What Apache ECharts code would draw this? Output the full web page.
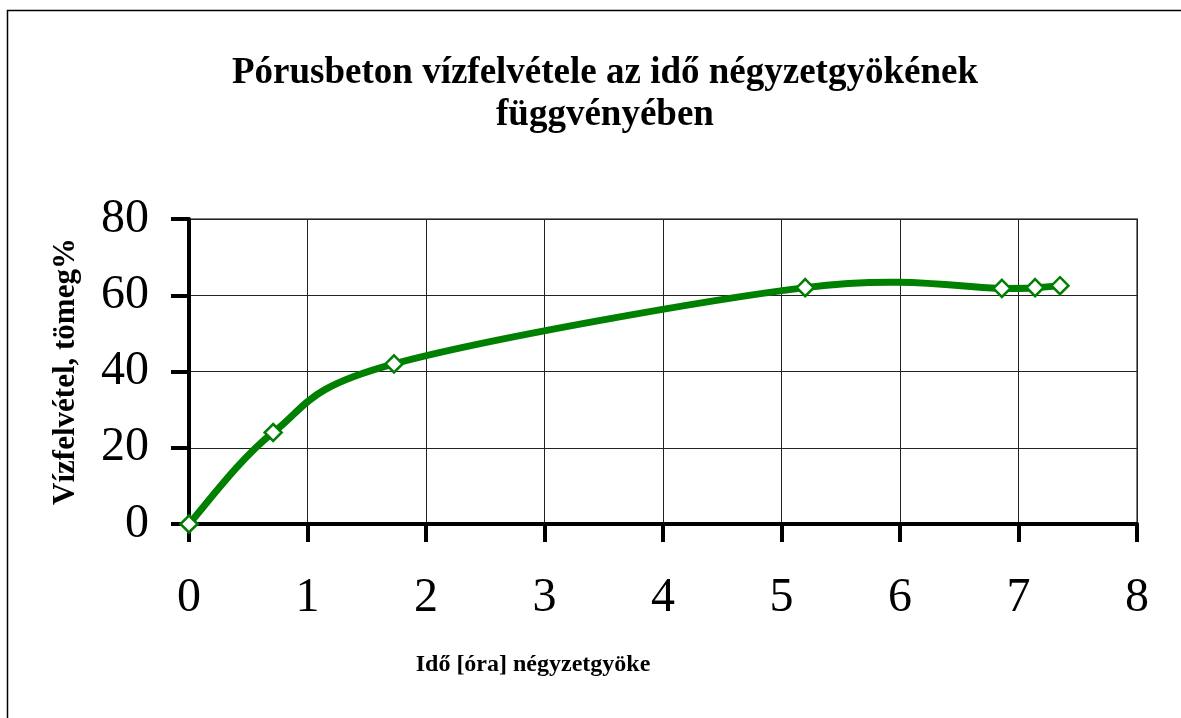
<!DOCTYPE html>
<html>
<head>
<meta charset="utf-8">
<script src="https://cdn.jsdelivr.net/npm/echarts@6/dist/echarts.min.js"></script>
<style>
html,body{margin:0;padding:0;background:#fff;}
#c{width:1181px;height:718px;}
</style>
</head>
<body>
<div id="c"></div>
<script>
var titleText = 'Pórusbeton vízfelvétele az idő négyzetgyökének\nfüggvényében';
var xName = 'Idő [óra] négyzetgyöke';
var yName = 'Vízfelvétel, tömeg%';
var xValues = [0, 0.71, 1.73, 5.2, 6.86, 7.14, 7.35];
var yValues = [0, 24, 42, 62, 61.8, 62, 62.5];
var xTicks = [0, 1, 2, 3, 4, 5, 6, 7, 8];
var yTicks = [0, 20, 40, 60, 80];

var points = xValues.map(function (x, i) { return [x, yValues[i]]; });
var serif = '"Liberation Serif", "Times New Roman", serif';
var n = points.length;

// Excel-style smoothed line: each segment i -> i+1 drawn as a cubic Bezier
// whose control points come from neighbouring data points (Catmull-Rom, tension 1/6),
// all positions obtained through the axes with api.coord.
function renderSegment(params, api) {
  var i = params.dataIndex;
  if (i >= n - 1) return null;
  var p0 = api.coord(points[Math.max(i - 1, 0)]);
  var p1 = api.coord(points[i]);
  var p2 = api.coord(points[i + 1]);
  var p3 = api.coord(points[Math.min(i + 2, n - 1)]);
  return {
    type: 'bezierCurve',
    shape: {
      x1: p1[0], y1: p1[1],
      cpx1: p1[0] + (p2[0] - p0[0]) / 6, cpy1: p1[1] + (p2[1] - p0[1]) / 6,
      cpx2: p2[0] - (p3[0] - p1[0]) / 6, cpy2: p2[1] - (p3[1] - p1[1]) / 6,
      x2: p2[0], y2: p2[1]
    },
    style: { fill: null, stroke: '#008000', lineWidth: 7, lineCap: 'round' }
  };
}

var chart = echarts.init(document.getElementById('c'));
chart.setOption({
  backgroundColor: '#fff',
  animation: false,
  title: {
    text: titleText,
    left: 600,
    top: 47,
    textAlign: 'center',
    textStyle: { fontFamily: serif, fontWeight: 'bold', fontSize: 37, lineHeight: 42, color: '#000' }
  },
  graphic: [
    { type: 'rect', shape: { x: 7.5, y: 10.5, width: 1300, height: 900 }, style: { fill: null, stroke: '#000', lineWidth: 1.5 }, z: -1 },
    { type: 'text', x: 533, y: 665, style: { text: xName, font: 'bold 24px ' + serif, fill: '#000', align: 'center', verticalAlign: 'middle' } }
  ],
  grid: { left: 189, top: 219, width: 948, height: 305, show: true, borderColor: '#808080', borderWidth: 2, backgroundColor: 'transparent' },
  xAxis: {
    type: 'value', min: xTicks[0], max: xTicks[xTicks.length - 1], interval: 1,
    axisLine: { show: true, lineStyle: { color: '#000', width: 4 } },
    axisTick: { show: true, length: 18, lineStyle: { color: '#000', width: 4 } },
    axisLabel: { fontFamily: serif, fontSize: 48, color: '#000', margin: 50 },
    splitLine: { show: true, lineStyle: { color: '#222', width: 1 } }
  },
  yAxis: {
    type: 'value', min: yTicks[0], max: yTicks[yTicks.length - 1], interval: 20,
    name: yName, nameLocation: 'middle', nameRotate: 90, nameGap: 108,
    nameTextStyle: { fontFamily: serif, fontWeight: 'bold', fontSize: 31, color: '#000' },
    axisLine: { show: true, lineStyle: { color: '#000', width: 4 } },
    axisTick: { show: true, length: 18, lineStyle: { color: '#000', width: 4 } },
    axisLabel: { fontFamily: serif, fontSize: 48, color: '#000', margin: 40 },
    splitLine: { show: true, lineStyle: { color: '#222', width: 1 } }
  },
  series: [{
    type: 'custom',
    data: points,
    renderItem: renderSegment,
    clip: false,
    z: 4
  }, {
    type: 'scatter',
    data: points,
    symbol: 'diamond',
    symbolSize: 17,
    itemStyle: { color: '#fff', borderColor: '#008000', borderWidth: 2.5, opacity: 1 },
    z: 6
  }]
});
</script>
</body>
</html>
